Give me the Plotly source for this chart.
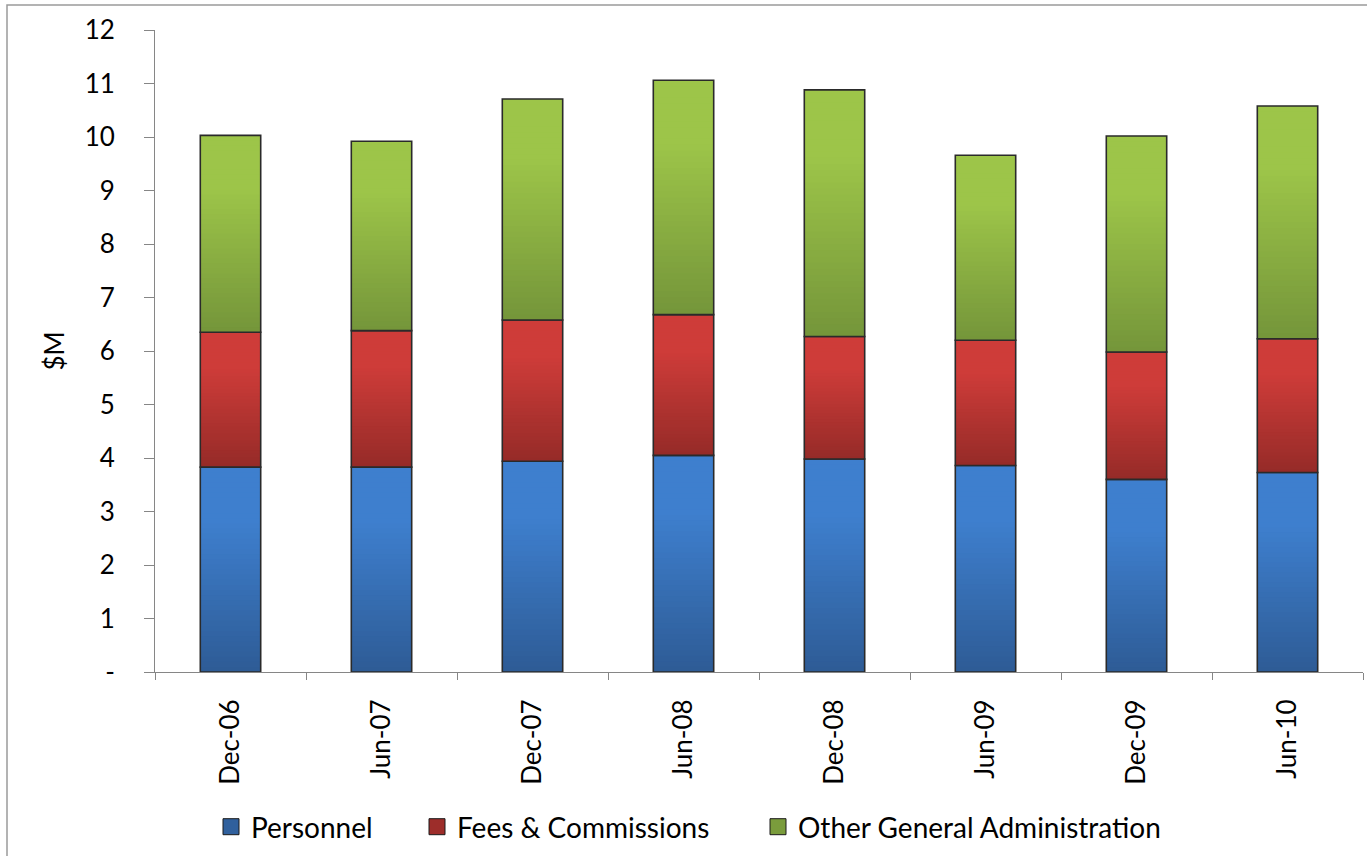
import plotly.graph_objects as go

# Half-yearly operating expenses, $M
periods = ["Dec-06", "Jun-07", "Dec-07", "Jun-08", "Dec-08", "Jun-09", "Dec-09", "Jun-10"]
personnel = [3.83, 3.83, 3.94, 4.05, 3.98, 3.86, 3.60, 3.73]
fees_commissions = [2.52, 2.55, 2.64, 2.63, 2.29, 2.34, 2.38, 2.50]
other_admin = [3.68, 3.54, 4.13, 4.38, 4.61, 3.46, 4.04, 4.35]

series = [
    ("Personnel", personnel, (46, 92, 150), (62, 127, 206)),
    ("Fees & Commissions", fees_commissions, (150, 43, 40), (206, 60, 57)),
    ("Other General Administration", other_admin, (117, 150, 58), (157, 197, 73)),
]

FONT = "Lato"
STEPS = 40
BAR_W = 0.4

L, R, T, B = 155, 4, 30, 184
W, H = 1367, 856
pw, ph = W - L - R, H - T - B

fig = go.Figure()


def mix(c0, c1, t):
    return "rgb({},{},{})".format(*[round(a + (b - a) * t) for a, b in zip(c0, c1)])


below = [0.0] * len(periods)
for name, vals, dark, light in series:
    # vertical gradient: each layer starts higher and is lighter
    for i in range(STEPS):
        f = i / STEPS
        t = min(1.0, (i / (STEPS - 1)) * 1.35)
        fig.add_trace(go.Bar(
            x=periods,
            y=[v * (1 - f) for v in vals],
            base=[b + v * f for b, v in zip(below, vals)],
            width=BAR_W,
            marker=dict(color=mix(dark, light, t), line=dict(width=0)),
            showlegend=False, hoverinfo="skip",
        ))
    # segment outline
    fig.add_trace(go.Bar(
        x=periods, y=vals, base=list(below), width=BAR_W,
        marker=dict(color="rgba(0,0,0,0)", line=dict(color="#2a2a2a", width=1.6)),
        showlegend=False, name=name,
    ))
    below = [b + v for b, v in zip(below, vals)]

# legend entries, one legend box each so their spacing can be set
legend_text_x = [251, 457, 798]
for k, ((name, vals, dark, light), tx) in enumerate(zip(series, legend_text_x)):
    lg = "legend" if k == 0 else f"legend{k + 1}"
    fig.add_trace(go.Scatter(
        x=[None], y=[None], mode="markers", name=name, legend=lg,
        marker=dict(symbol="square", size=16, color=mix(dark, light, 0.12),
                    line=dict(color="#1a1a1a", width=1)),
        showlegend=True,
    ))
    fig.update_layout({lg: dict(
        x=(tx - 40 - L) / pw, xanchor="left",
        y=-(827 - (H - B)) / ph, yanchor="middle",
        font=dict(size=28, family=FONT, color="black"),
        bgcolor="rgba(0,0,0,0)", borderwidth=0,
    )})

fig.add_shape(
    type="rect", xref="paper", yref="paper",
    x0=(7 - L) / pw, x1=(W + 10 - L) / pw,
    y0=-(B + 10) / ph, y1=1 + (T - 5) / ph,
    line=dict(color="#9a9a9a", width=1.5), fillcolor="rgba(0,0,0,0)", layer="below",
)

fig.update_layout(
    width=W, height=H,
    margin=dict(l=L, r=R, t=T, b=B),
    barmode="overlay",
    plot_bgcolor="white", paper_bgcolor="white",
    font=dict(family=FONT, size=26, color="black"),
    xaxis=dict(
        type="category", categoryorder="array", categoryarray=periods,
        showline=True, linecolor="#868686", linewidth=1,
        ticks="outside", tickson="boundaries", ticklen=7, tickcolor="#868686",
        tickangle=-90, ticklabelstandoff=16, showgrid=False,
        range=[-0.5, len(periods) - 0.5],
    ),
    yaxis=dict(
        range=[0, 12], tickvals=list(range(13)),
        ticktext=["-"] + [str(i) for i in range(1, 13)],
        showline=True, linecolor="#868686", linewidth=1,
        ticks="outside", ticklen=10, tickcolor="#868686",
        ticklabelstandoff=24, showgrid=False, zeroline=False,
        title=dict(text="$M", standoff=12, font=dict(size=26)),
    ),
)

fig.write_html("out.html")
